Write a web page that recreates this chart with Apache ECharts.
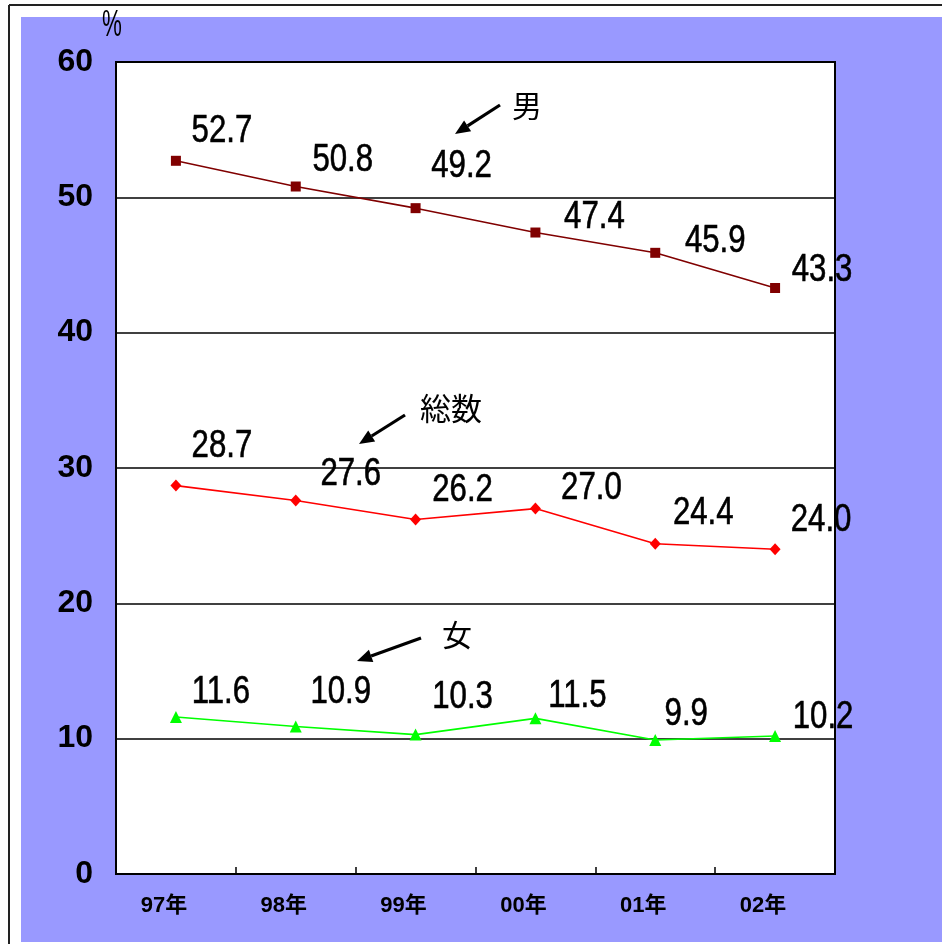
<!DOCTYPE html>
<html>
<head>
<meta charset="utf-8">
<script src="https://cdn.jsdelivr.net/npm/echarts@6/dist/echarts.min.js"></script>
<style>
  html, body { margin: 0; padding: 0; background: #fff; }
  #chart { width: 942px; height: 944px; }
</style>
</head>
<body>
<div id="chart"></div>
<script>
var years = ['97年', '98年', '99年', '00年', '01年', '02年'];
var male = [52.7, 50.8, 49.2, 47.4, 45.9, 43.3];
var total = [28.7, 27.6, 26.2, 27.0, 24.4, 24.0];
var female = [11.6, 10.9, 10.3, 11.5, 9.9, 10.2];

// label offsets from each point (px)
var maleOffsets = [[46, -30], [47, -26], [46, -42], [59, -15], [60, -12], [47, -18]];
var totalOffsets = [[46, -39], [55, -26], [47, -29], [56, -20], [48, -31], [46, -29]];
var femaleOffsets = [[45, -25], [45, -34], [47, -37], [42, -22], [31, -26], [48, -19]];

var cjkFont = "'Noto Sans CJK JP', 'Noto Sans', sans-serif";

function lineSeries(name, values, color, symbol, size) {
  return {
    name: name,
    type: 'line',
    data: values,
    symbol: symbol,
    symbolSize: size,
    lineStyle: { color: color, width: 1.6 },
    itemStyle: { color: color },
    z: 5
  };
}

// value labels drawn as condensed text (the source uses a narrow face)
function labelSeries(values, offsets) {
  return {
    type: 'custom',
    data: values.map(function (v, i) { return [i, v]; }),
    z: 8,
    silent: true,
    renderItem: function (params, api) {
      var pt = api.coord([api.value(0), api.value(1)]);
      var off = offsets[params.dataIndex];
      return {
        type: 'text',
        x: pt[0] + off[0],
        y: pt[1] + off[1],
        scaleX: 0.8,
        style: {
          text: values[params.dataIndex].toFixed(1),
          font: "39px 'Liberation Sans', Arial, sans-serif",
          fill: '#000',
          stroke: '#000',
          lineWidth: 0.6,
          align: 'center',
          verticalAlign: 'middle'
        }
      };
    }
  };
}

function arrow(x1, y1, x2, y2) {
  var dx = x2 - x1, dy = y2 - y1;
  var len = Math.sqrt(dx * dx + dy * dy);
  var ux = dx / len, uy = dy / len;
  var hl = 15, hw = 6.5;
  var bx = x2 - ux * hl, by = y2 - uy * hl;
  return [
    { type: 'line', shape: { x1: x1, y1: y1, x2: bx, y2: by }, style: { stroke: '#000', lineWidth: 3.2 }, z: 10 },
    { type: 'polygon', shape: { points: [[x2, y2], [bx - uy * hw, by + ux * hw], [bx + uy * hw, by - ux * hw]] }, style: { fill: '#000' }, z: 10 }
  ];
}

var chart = echarts.init(document.getElementById('chart'));
var option = {
  backgroundColor: '#fff',
  animation: false,
  graphic: [
    { type: 'rect', shape: { x: 21, y: 17, width: 921, height: 925 }, style: { fill: '#9999FF' }, z: -100 },
    { type: 'line', shape: { x1: 9, y1: 5, x2: 942, y2: 5 }, style: { stroke: '#222', lineWidth: 2 }, z: -99 },
    { type: 'line', shape: { x1: 9, y1: 5, x2: 9, y2: 944 }, style: { stroke: '#222', lineWidth: 2 }, z: -99 },
    { type: 'text', x: 112, y: 26, scaleX: 0.62, style: { text: '%', font: "36px 'Liberation Sans', Arial, sans-serif", fill: '#000', align: 'center', verticalAlign: 'middle' }, z: 10 },
    { type: 'text', left: 512, top: 91, style: { text: '男', font: '30px ' + cjkFont, fill: '#000' }, z: 10 },
    { type: 'text', left: 420, top: 393, style: { text: '総数', font: '31px ' + cjkFont, fill: '#000' }, z: 10 },
    { type: 'text', left: 442, top: 620, style: { text: '女', font: '30px ' + cjkFont, fill: '#000' }, z: 10 }
  ].concat(arrow(500, 105, 455, 134), arrow(405, 415, 359, 444), arrow(421, 638, 357, 661)),
  grid: {
    left: 116,
    top: 62,
    right: 107,
    bottom: 70,
    show: true,
    backgroundColor: '#fff',
    borderColor: '#000',
    borderWidth: 2
  },
  xAxis: {
    type: 'category',
    data: years,
    boundaryGap: true,
    axisLine: { lineStyle: { color: '#000', width: 2 } },
    axisTick: { show: true, inside: true, length: 7, interval: 0, lineStyle: { color: '#000', width: 1.5 } },
    axisLabel: {
      color: '#000',
      fontSize: 22,
      fontWeight: 'bold',
      fontFamily: "'Liberation Sans', Arial, " + cjkFont,
      margin: 21,
      padding: [0, 24, 0, 0],
      interval: 0
    }
  },
  yAxis: {
    type: 'value',
    min: 0,
    max: 60,
    interval: 10,
    axisLine: { show: true, lineStyle: { color: '#000', width: 2 } },
    axisTick: { show: false },
    splitLine: { show: true, lineStyle: { color: '#000', width: 1.5 } },
    axisLabel: {
      color: '#000',
      fontSize: 32,
      fontWeight: 'bold',
      fontFamily: "'Liberation Sans', Arial, sans-serif",
      margin: 23
    }
  },
  series: [
    lineSeries('男', male, '#800000', 'rect', 10),
    lineSeries('総数', total, '#FF0000', 'diamond', [11, 12]),
    lineSeries('女', female, '#00FF00', 'triangle', 12),
    labelSeries(male, maleOffsets),
    labelSeries(total, totalOffsets),
    labelSeries(female, femaleOffsets)
  ]
};
chart.setOption(option);
</script>
</body>
</html>
